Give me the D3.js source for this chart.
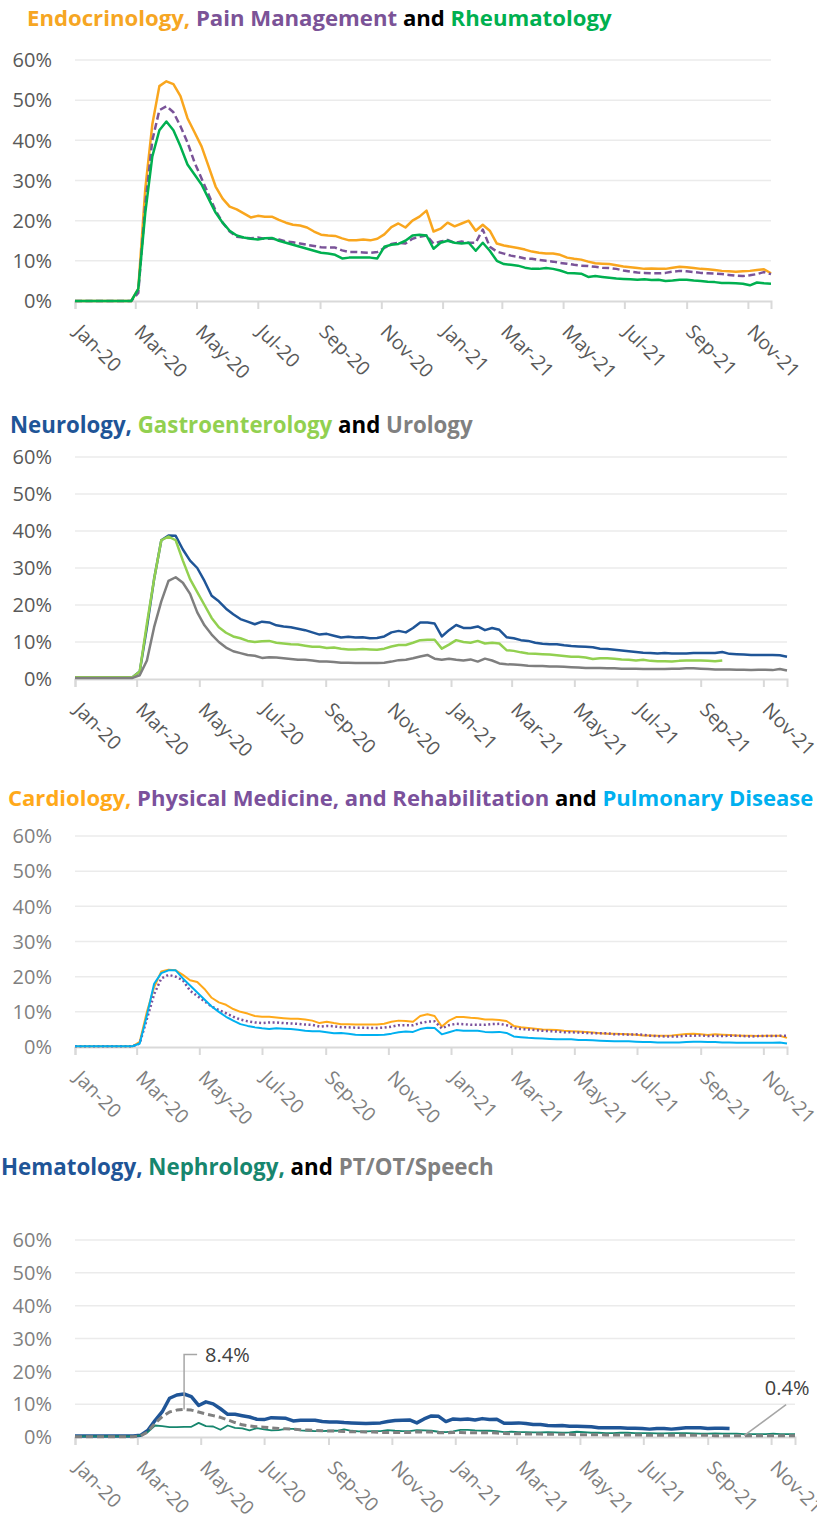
<!DOCTYPE html>
<html>
<head>
<meta charset="utf-8">
<title>Telehealth share of visits by specialty</title>
<script src="https://cdn.jsdelivr.net/npm/d3@7"></script>
<style>
  body { margin: 0; background: #fff; }
  svg { display: block; }
  text { font-family: "Open Sans", sans-serif; }
</style>
</head>
<body>
<svg id="chart" width="817" height="1520"></svg>
<script>
// weekly series, first week starts 1 Jan 2020
const weekStart = new Date(2020, 0, 1);
const tickLabels = ["Jan-20", "Mar-20", "May-20", "Jul-20", "Sep-20", "Nov-20",
                    "Jan-21", "Mar-21", "May-21", "Jul-21", "Sep-21", "Nov-21"];
const yTicks = [0, 10, 20, 30, 40, 50, 60];

// panel 1
const endocrinology = [0,0,0,0,0,0,0,0,0,
  3,28,44,53.5,54.7,54,51,45.5,42,38.5,33.5,
  28.5,25.5,23.5,22.8,21.8,20.8,21.2,21,21,20.2,
  19.5,19,18.8,18.3,17.3,16.5,16.3,16.2,15.6,15.1,
  15.1,15.3,15.1,15.5,16.6,18.4,19.3,18.3,20,21,
  22.5,17.3,18,19.5,18.6,19.3,20,17.5,19,17.5,
  14.3,13.8,13.5,13.2,12.8,12.3,12,11.8,11.8,11.5,
  10.8,10.5,10.3,9.8,9.4,9.3,9.2,8.9,8.6,8.4,
  8.2,8.0,8.1,8.0,8.0,8.3,8.5,8.4,8.2,8.0,
  7.9,7.7,7.5,7.4,7.3,7.4,7.5,7.7,7.9,6.9];
const painManagement = [0,0,0,0,0,0,0,0,0,
  2,24,40,47.5,48.5,47,43.5,39.5,34.5,30.5,26.5,
  22.5,19.5,17.3,16,15.8,15.6,15.8,15.5,15.5,15.3,
  14.8,14.6,14.3,14,13.7,13.4,13.3,13.3,12.6,12.2,
  12.2,12.1,12,12.2,13.2,14.2,14.5,14.3,15.5,16,
  16.3,14.3,14.8,15.2,14.5,14.8,14.5,14.5,17.8,13.5,
  12.3,11.8,11.3,11,10.6,10.5,10.2,10,9.8,9.5,
  9.3,9,8.8,8.7,8.5,8.3,8.2,8,7.6,7.3,
  7.1,7.0,6.9,6.9,7.0,7.3,7.5,7.4,7.2,7.0,
  6.9,6.8,6.7,6.5,6.3,6.2,6.4,6.7,7.2,6.7];
const rheumatology = [0,0,0,0,0,0,0,0,0,
  3,22,36,42.5,44.7,42.5,38.5,34,31.5,29,25.5,
  22,19.5,17.5,16.3,15.8,15.5,15.3,15.6,15.7,15,
  14.5,14,13.5,13,12.5,12,11.8,11.5,10.6,10.8,
  10.8,10.8,10.8,10.6,13.5,14,14.2,15,16.3,16.5,
  16.3,13,14.5,15,14.5,14.3,14.5,12.5,14.5,12.5,
  10,9.2,9,8.8,8.3,8,8,8.2,8,7.6,
  7,6.9,6.8,6,6.2,6,5.8,5.6,5.5,5.4,
  5.3,5.4,5.2,5.3,5.0,5.1,5.3,5.3,5.1,5,
  4.8,4.7,4.5,4.5,4.4,4.3,3.9,4.6,4.4,4.3];

// panel 2
const neurology = [0.5,0.5,0.5,0.5,0.5,0.5,0.5,0.5,0.5,
  2,14,27,37.5,38.8,38.7,35,32,30,26.5,22.5,
  21,19,17.5,16.2,15.5,14.8,15.5,15.3,14.5,14.2,
  14,13.6,13.2,12.6,12,12.2,11.7,11.2,11.4,11.2,
  11.3,11,11.1,11.5,12.6,13,12.6,13.8,15.3,15.3,
  15,11.5,13.2,14.6,13.8,13.8,14.2,13.2,13.8,13.3,
  11.3,11,10.5,10.3,9.8,9.5,9.4,9.4,9.1,8.9,
  8.8,8.7,8.6,8.2,8.1,7.9,7.7,7.5,7.3,7.1,
  7,6.9,7,6.9,6.9,6.9,7,7,7,7,
  7.3,6.8,6.7,6.6,6.5,6.5,6.5,6.5,6.4,6.0];
const gastroenterology = [0.5,0.5,0.5,0.5,0.5,0.5,0.5,0.5,0.5,
  2,15,27,37.5,38.5,37.5,32,27,23.5,20,16.5,
  14,12.5,11.5,11,10.3,10,10.2,10.3,9.8,9.6,
  9.4,9.3,9,8.7,8.7,8.4,8.5,8.2,8,8,
  8.1,8,7.9,8.2,8.8,9.2,9.2,9.8,10.5,10.6,
  10.6,8.2,9.3,10.5,10,9.8,10.3,9.6,9.8,9.6,
  7.8,7.6,7.2,6.9,6.8,6.7,6.6,6.4,6.2,6,
  6,5.8,5.4,5.6,5.6,5.5,5.3,5.2,5,5.2,
  4.9,4.8,4.8,4.7,4.9,5,5,5,4.9,4.8,
  5.0];
const urology = [0.3,0.3,0.3,0.3,0.3,0.3,0.3,0.3,0.3,
  1,5,14,21,26.5,27.5,26,23,18,14.5,12,
  10,8.5,7.5,7,6.5,6.3,5.7,5.9,5.8,5.6,
  5.4,5.2,5.2,5,4.7,4.7,4.6,4.4,4.4,4.3,
  4.3,4.3,4.3,4.4,4.7,5.1,5.2,5.6,6.1,6.5,
  5.5,5.2,5.5,5.2,5,5.3,4.7,5.5,5,4.2,
  4,3.9,3.8,3.6,3.5,3.5,3.4,3.4,3.3,3.2,
  3.1,3,3,3,2.9,2.9,2.8,2.8,2.8,2.7,
  2.7,2.7,2.7,2.8,2.8,2.9,2.9,2.8,2.7,2.6,
  2.6,2.6,2.5,2.5,2.4,2.5,2.5,2.4,2.7,2.3];

// panel 3
const cardiology = [0.2,0.2,0.2,0.2,0.2,0.2,0.2,0.2,0.2,
  1.5,10,17,21.5,22,21.8,20.5,19,18.5,16.5,14,
  12.7,12,10.8,10,9.5,8.8,8.6,8.6,8.4,8.2,
  8,8,7.8,7.5,6.8,7.2,6.8,6.5,6.5,6.4,
  6.4,6.4,6.4,6.6,7.2,7.5,7.4,7.2,8.8,9.3,
  8.8,5.8,7.5,8.5,8.5,8.3,8.2,7.8,7.8,7.7,
  7.4,6.0,5.6,5.4,5.2,5,4.9,4.8,4.6,4.5,
  4.4,4.3,4.1,3.9,3.8,3.8,3.7,3.6,3.5,3.3,
  3.3,3.2,3.2,3.3,3.5,3.7,3.8,3.6,3.4,3.6,
  3.5,3.4,3.3,3.2,3.2,3.1,3.2,3.2,3.2,2.6];
const physicalMedicine = [0.2,0.2,0.2,0.2,0.2,0.2,0.2,0.2,0.2,
  1,8,15,19.5,20.5,20,19,16,14.5,13,11.5,
  10.5,9.6,8.6,7.8,7.3,7,6.8,7,7,6.8,
  6.7,6.6,6.4,6.3,5.8,6,5.9,5.6,5.6,5.5,
  5.5,5.4,5.4,5.5,5.8,6.2,6.2,6.2,6.8,7.2,
  7.3,5.3,6.2,6.6,6.5,6.3,6.3,6.3,6.5,6.6,
  6.2,5.4,5.1,5,4.8,4.6,4.5,4.4,4.2,4.2,
  4.1,4,3.9,3.9,3.9,3.6,3.6,3.5,3.6,3.5,
  3.2,3.1,3,3,3,3.2,3.2,3.3,3.1,3.2,
  3.1,3.2,3.2,3.1,3,3.1,3.1,3.1,3.2,3.2];
const pulmonary = [0.2,0.2,0.2,0.2,0.2,0.2,0.2,0.2,0.2,
  1,9,18,21,21.8,21.8,19.5,17.5,15.5,13.5,11.5,
  10,8.6,7.5,6.5,6,5.6,5.3,5.1,5.3,5.2,
  5.1,4.9,4.6,4.5,4.5,4.2,3.9,4,3.8,3.5,
  3.4,3.4,3.4,3.5,3.8,4.2,4.4,4.3,5.1,5.5,
  5.4,3.6,4.2,4.8,4.6,4.6,4.6,4.3,4.2,4.3,
  4.0,3.0,2.8,2.6,2.5,2.4,2.3,2.2,2.2,2.2,
  2,2,1.9,1.8,1.7,1.6,1.6,1.6,1.5,1.4,
  1.4,1.3,1.3,1.3,1.3,1.4,1.5,1.5,1.4,1.4,
  1.3,1.3,1.2,1.2,1.2,1.2,1.2,1.2,1.3,1.0];

// panel 4
const hematology = [0.3,0.3,0.3,0.3,0.3,0.3,0.3,0.3,0.3,
  0.5,2,5,7.7,11.8,12.8,13.1,12.3,9.6,10.7,10.1,
  8.6,6.9,6.9,6.5,6.1,5.4,5.3,5.9,5.8,5.7,
  4.9,5.1,5.1,5.1,4.7,4.6,4.6,4.4,4.3,4.2,
  4.1,4.2,4.3,4.7,5,5.1,5.2,4.3,5.5,6.4,
  6.3,4.7,5.5,5.3,5.5,5.2,5.6,5.3,5.4,4.2,
  4.2,4.3,4.1,3.8,3.8,3.5,3.4,3.5,3.3,3.3,
  3.2,3.1,2.8,2.8,2.8,2.8,2.7,2.7,2.6,2.4,
  2.6,2.6,2.4,2.6,2.8,2.8,2.8,2.6,2.7,2.7,
  2.6];
const nephrology = [0.2,0.2,0.2,0.2,0.2,0.2,0.2,0.2,0.2,
  0.5,1.5,3.5,3.3,3,3,3.1,3.1,4.3,3.3,3.2,
  2.2,3.5,2.8,2.6,2,2.7,2.3,2,2.1,2.5,
  2.5,2,1.9,1.8,1.8,1.9,1.9,2.3,1.9,1.7,
  1.7,1.8,1.8,2.1,1.9,1.8,1.8,2.1,2,1.9,
  1.6,1.5,1.7,2.2,2.2,2,1.9,1.9,1.8,1.5,
  1.6,1.5,1.5,1.4,1.4,1.5,1.4,1.3,1.4,1.6,
  1.5,1.3,1.3,1.2,1.2,1.3,1.3,1.2,1.2,1.2,
  1.1,1.1,1.2,1.2,1.2,1.1,1.0,1.0,1.1,1.0,
  1.0,1.0,0.9,0.9,0.9,0.9,1.0,0.9,0.9,0.9];
const ptOtSpeech = [0.1,0.1,0.1,0.1,0.1,0.1,0.1,0.1,0.1,
  0.3,1.5,4.2,6.2,7.6,8.2,8.4,8.2,7.6,7,6.5,
  6,5.2,4.4,3.7,3.4,3.1,3,2.8,2.6,2.5,
  2.4,2.2,2.1,2,1.9,1.8,1.8,1.7,1.6,1.6,
  1.5,1.5,1.4,1.4,1.4,1.4,1.4,1.6,1.5,1.5,
  1.3,1.3,1.4,1.4,1.3,1.3,1.3,1.3,1.2,1.1,
  1.0,1.0,0.9,0.9,0.9,0.8,0.8,0.8,0.8,0.7,
  0.7,0.7,0.7,0.6,0.6,0.6,0.6,0.6,0.6,0.5,
  0.5,0.5,0.5,0.5,0.5,0.5,0.5,0.5,0.4,0.4,
  0.4,0.4,0.4,0.4,0.4,0.4,0.4,0.4,0.4,0.4];

const panels = [
  {
    title: [["Endocrinology, ", "#F6A623"], ["Pain Management ", "#7B5397"], ["and ", "#000"], ["Rheumatology", "#00B050"]],
    titleX: 27, titleY: 26, titleW: 585,
    top: 60, zero: 301, right: 771, labelColor: "#595959",
    series: [
      { values: endocrinology, color: "#F9A61E", width: 2.5 },
      { values: painManagement, color: "#7A5398", width: 2.5, dash: "7,3.5" },
      { values: rheumatology, color: "#00B050", width: 2.5 }
    ]
  },
  {
    title: [["Neurology, ", "#1F5597"], ["Gastroenterology ", "#92D050"], ["and ", "#000"], ["Urology", "#808080"]],
    titleX: 10, titleY: 433, titleW: 463,
    top: 457, zero: 679, right: 787, labelColor: "#595959",
    series: [
      { values: neurology, color: "#1F5597", width: 2.5 },
      { values: gastroenterology, color: "#92D050", width: 2.5 },
      { values: urology, color: "#7F7F7F", width: 2.5 }
    ]
  },
  {
    title: [["Cardiology, ", "#FFA91A"], ["Physical Medicine, and Rehabilitation ", "#7B519C"], ["and ", "#000"], ["Pulmonary Disease", "#00B0F0"]],
    titleX: 8, titleY: 806, titleW: 806,
    top: 836, zero: 1047, right: 787, labelColor: "#7F7F7F",
    series: [
      { values: cardiology, color: "#FFA91A", width: 2 },
      { values: physicalMedicine, color: "#7B519C", width: 2.5, dash: "2,2.5" },
      { values: pulmonary, color: "#00B0F0", width: 2 }
    ]
  },
  {
    title: [["Hematology, ", "#1F5597"], ["Nephrology, ", "#17866E"], ["and ", "#000"], ["PT/OT/Speech", "#808080"]],
    titleX: 1, titleY: 1175, titleW: 493,
    top: 1240, zero: 1437, right: 795, labelColor: "#7F7F7F",
    series: [
      { values: hematology, color: "#1F5597", width: 3.5 },
      { values: nephrology, color: "#17866E", width: 1.8 },
      { values: ptOtSpeech, color: "#808080", width: 3, dash: "7,4" }
    ],
    notes: [
      { series: ptOtSpeech, index: 15, kind: "elbow" },
      { series: ptOtSpeech, index: 92, kind: "diag" }
    ]
  }
];

const svg = d3.select("#chart");
const parseTick = d3.timeParse("%b-%y");
const weekDate = i => d3.timeDay.offset(weekStart, 7 * i);
const nWeeks = d3.max(panels, p => d3.max(p.series, s => s.values.length));
const pct = d3.format(".1f");

panels.forEach(p => {
  const g = svg.append("g");
  const x = d3.scaleTime().domain([weekStart, weekDate(nWeeks - 1)]).range([75, p.right]);
  const y = d3.scaleLinear().domain([0, 60]).range([p.zero, p.top]);

  // title, scaled to its width in the picture
  const t = g.append("text").attr("x", p.titleX).attr("y", p.titleY)
    .attr("font-weight", 700).attr("font-size", 20);
  p.title.forEach(([txt, c]) => t.append("tspan").attr("fill", c).text(txt));
  const len = t.node().getComputedTextLength();
  t.attr("font-size", 20 * p.titleW / len);

  // gridlines
  g.selectAll(".grid").data(yTicks.filter(d => d > 0)).join("line")
    .attr("x1", 75).attr("x2", p.right)
    .attr("y1", d => y(d)).attr("y2", d => y(d))
    .attr("stroke", "#ebebeb").attr("stroke-width", 1.5);

  // y labels
  g.selectAll(".ylab").data(yTicks).join("text")
    .attr("x", 52).attr("y", d => y(d)).attr("dy", "0.36em")
    .attr("text-anchor", "end").attr("font-size", 20).attr("fill", p.labelColor)
    .text(d => d + "%");

  // x axis
  const xAxis = d3.axisBottom(x)
    .tickValues(tickLabels.map(parseTick))
    .tickSize(8).tickFormat("");
  const ax = g.append("g").attr("transform", `translate(0,${p.zero})`).call(xAxis);
  ax.select(".domain").attr("stroke", "#d9d9d9").attr("stroke-width", 2);
  ax.selectAll(".tick line").attr("stroke", "#d9d9d9").attr("stroke-width", 2);

  g.selectAll(".xlab").data(tickLabels).join("text")
    .attr("transform", d => `translate(${x(parseTick(d)) - 2},${p.zero + 32}) rotate(45)`)
    .attr("font-size", 19.5).attr("fill", p.labelColor)
    .text(d => d);

  // series
  const line = d3.line().x((d, i) => x(weekDate(i))).y(d => y(d));
  p.series.forEach(s => {
    g.append("path").datum(s.values)
      .attr("d", line).attr("fill", "none")
      .attr("stroke", s.color).attr("stroke-width", s.width)
      .attr("stroke-linejoin", "round")
      .attr("stroke-dasharray", s.dash || null);
  });

  // data labels with leader lines
  (p.notes || []).forEach(n => {
    const v = n.series[n.index];
    const px = x(weekDate(n.index)), py = y(v);
    let path, tx, ty, anchor;
    if (n.kind === "elbow") {
      path = `M${px},${py}V${py - 55}H${px + 13}`;
      tx = px + 21; ty = py - 55; anchor = "start";
    } else {
      path = `M${px},${py}L${px + 42},${py - 31}`;
      tx = px + 43; ty = py - 48; anchor = "middle";
    }
    g.append("path").attr("d", path).attr("fill", "none")
      .attr("stroke", "#a6a6a6").attr("stroke-width", 1.5);
    g.append("text").attr("x", tx).attr("y", ty).attr("dy", "0.36em")
      .attr("text-anchor", anchor).attr("font-size", 20).attr("fill", "#404040")
      .text(pct(v) + "%");
  });
});
</script>
</body>
</html>
